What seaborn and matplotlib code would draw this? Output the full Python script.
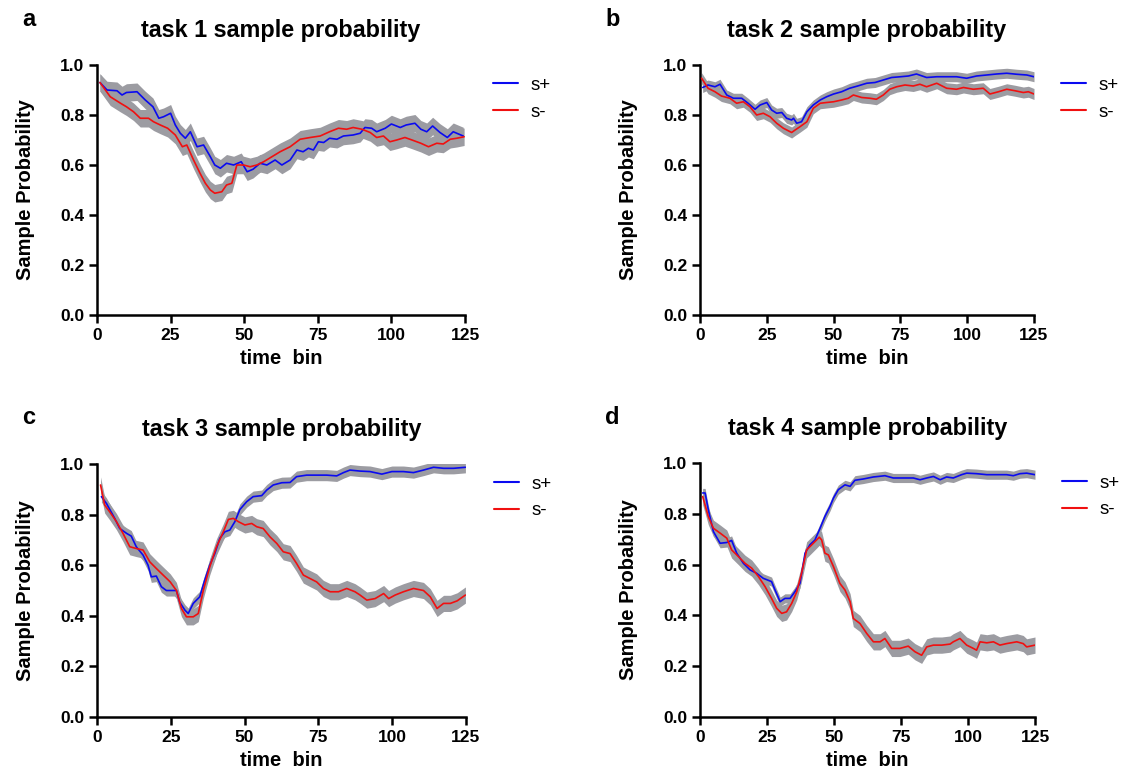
import numpy as np
import pandas as pd
import matplotlib
matplotlib.use("Agg")
import matplotlib.pyplot as plt
import seaborn as sns
from matplotlib.lines import Line2D

# ---------------- data ----------------
# Panel a (task 1)
a_sp_x = [1, 3.4, 6.8, 8.5, 10, 13.6, 14.7, 16.4, 19, 21, 22.6, 25, 26.6, 28.3, 30, 31.7, 34, 36.2, 38.5, 40, 41.9, 44,
          46.4, 49, 51, 53, 55.4, 57.7, 60.5, 62.8, 65.6, 67.9, 70, 71.8, 73.5, 75.2, 77, 79, 81.5, 83.7, 87, 89.4, 91,
          93.3, 95, 97.9, 100, 103, 105, 108, 110, 112, 114, 116.5, 119, 121, 124.4]
a_sp_y = [0.93, 0.90, 0.897, 0.88, 0.89, 0.893, 0.88, 0.86, 0.833, 0.787, 0.793, 0.807, 0.76, 0.727, 0.707, 0.733,
          0.673, 0.68, 0.633, 0.60, 0.587, 0.607, 0.60, 0.613, 0.573, 0.583, 0.607, 0.60, 0.62, 0.60, 0.62, 0.66,
          0.653, 0.667, 0.66, 0.693, 0.69, 0.707, 0.703, 0.716, 0.72, 0.727, 0.75, 0.747, 0.733, 0.747, 0.764, 0.75,
          0.76, 0.767, 0.743, 0.733, 0.756, 0.73, 0.71, 0.733, 0.716]
a_sm_x = [1, 4.5, 8, 10, 12.4, 14.7, 17.5, 19.2, 21.5, 24, 26.6, 29, 30.5, 32.8, 35, 36.8, 38.5, 40, 42.4, 44, 45.8,
          47.5, 49.8, 52, 54.3, 56.6, 59.4, 62.2, 65.6, 69, 72.4, 75.8, 79, 82, 84.8, 87, 90, 92.8, 95, 97.3, 99.5,
          101.8, 104.6, 107, 110, 112.6, 115.4, 117.6, 120, 122.2, 124.7]
a_sm_y = [0.93, 0.873, 0.847, 0.833, 0.813, 0.787, 0.787, 0.773, 0.76, 0.747, 0.72, 0.673, 0.68, 0.62, 0.567, 0.527,
          0.50, 0.487, 0.493, 0.52, 0.527, 0.60, 0.60, 0.593, 0.60, 0.613, 0.633, 0.653, 0.673, 0.703, 0.71, 0.716,
          0.733, 0.747, 0.743, 0.75, 0.743, 0.73, 0.71, 0.716, 0.693, 0.70, 0.71, 0.70, 0.687, 0.673, 0.687, 0.684,
          0.703, 0.707, 0.713]

# Panel b (task 2)
b_sp_x = [1, 3, 5.6, 7.5, 10, 12.5, 15.6, 18, 20.6, 22.5, 25, 26.8, 28.7, 30.6, 32.4, 34.3, 35, 36.2, 38, 40, 42.4,
          45, 47.4, 50, 53, 56, 59, 62.4, 65.5, 68.6, 71.7, 75, 78, 81, 84.8, 88.6, 92.3, 96, 99.8, 103.5, 107.3, 111,
          114.8, 118.5, 122.3, 125]
b_sp_y = [0.91, 0.92, 0.913, 0.923, 0.88, 0.867, 0.867, 0.847, 0.823, 0.84, 0.85, 0.82, 0.807, 0.81, 0.787, 0.78,
          0.787, 0.767, 0.773, 0.813, 0.84, 0.86, 0.873, 0.884, 0.893, 0.907, 0.916, 0.927, 0.93, 0.94, 0.95, 0.953,
          0.956, 0.964, 0.95, 0.953, 0.953, 0.953, 0.947, 0.956, 0.96, 0.964, 0.967, 0.963, 0.96, 0.953]
b_sm_x = [0.6, 3, 5.6, 8, 11.2, 13.7, 16.2, 18.7, 21.2, 23.7, 26.2, 28.7, 31.2, 34.3, 35.6, 37.4, 40, 42.4, 45, 47.4,
          50, 53, 55.5, 57.4, 60.5, 63.6, 66, 68.6, 71, 73.6, 76.7, 79.8, 82.3, 84.8, 88.6, 92.3, 96, 98.6, 102.3, 106,
          108.5, 111.7, 114.8, 117.9, 121, 122.9, 125]
b_sm_y = [0.947, 0.907, 0.893, 0.876, 0.867, 0.847, 0.853, 0.833, 0.80, 0.807, 0.793, 0.767, 0.747, 0.73, 0.74, 0.753,
          0.773, 0.827, 0.847, 0.85, 0.853, 0.86, 0.867, 0.88, 0.87, 0.867, 0.863, 0.88, 0.903, 0.913, 0.92, 0.916,
          0.923, 0.913, 0.927, 0.907, 0.903, 0.91, 0.903, 0.907, 0.884, 0.893, 0.903, 0.897, 0.89, 0.893, 0.884]

# Panel c (task 3)
c_sp_x = [1.5, 3.2, 6, 7.7, 10, 11.6, 13.3, 15.6, 17.3, 18.4, 20.1, 21.8, 23.5, 25.2, 26.9, 28, 29.8, 30.9, 32.6,
          34.8, 36.5, 38.2, 39.9, 41.6, 43.3, 45, 46.7, 48.4, 50.7, 52.9, 55.8, 57.5, 59.7, 62.6, 65.4, 67.6, 71, 74.4,
          77.8, 81.2, 83.5, 85.7, 89.1, 92.5, 96.5, 99.9, 103.8, 107.2, 110.6, 114, 117.4, 120.8, 124.8]
c_sp_y = [0.871, 0.844, 0.785, 0.745, 0.726, 0.715, 0.673, 0.64, 0.60, 0.554, 0.557, 0.515, 0.50, 0.50, 0.50, 0.454,
          0.422, 0.409, 0.449, 0.475, 0.541, 0.60, 0.646, 0.706, 0.732, 0.739, 0.772, 0.82, 0.851, 0.871, 0.875,
          0.897, 0.917, 0.926, 0.927, 0.95, 0.956, 0.956, 0.956, 0.953, 0.966, 0.976, 0.972, 0.97, 0.96, 0.97, 0.97,
          0.966, 0.976, 0.987, 0.983, 0.983, 0.987]
c_sm_x = [1.2, 2.6, 4.3, 6.6, 8.8, 11.1, 13.3, 15.6, 17.9, 20.1, 22.4, 24.8, 26.9, 28.6, 30.3, 32.6, 34.3, 36, 38.2,
          40.5, 42.8, 44.5, 46.2, 47.9, 50.1, 52.4, 54.1, 56.3, 58.6, 60.9, 63.1, 65.4, 67.6, 69.9, 72.2, 74.4, 76.7,
          79, 81.8, 84.6, 87.4, 89.1, 91.4, 94.2, 97.1, 98.8, 101, 103.8, 107.2, 110.6, 112.9, 115.2, 117.4, 119.7,
          122, 124.8]
c_sm_y = [0.917, 0.838, 0.811, 0.772, 0.726, 0.673, 0.666, 0.66, 0.613, 0.587, 0.561, 0.534, 0.50, 0.429, 0.396,
          0.396, 0.409, 0.50, 0.594, 0.673, 0.732, 0.781, 0.785, 0.772, 0.759, 0.765, 0.752, 0.745, 0.712, 0.686,
          0.653, 0.646, 0.607, 0.561, 0.547, 0.534, 0.508, 0.495, 0.495, 0.508, 0.495, 0.482, 0.462, 0.468, 0.488,
          0.468, 0.482, 0.495, 0.508, 0.50, 0.475, 0.429, 0.449, 0.449, 0.459, 0.482]

# Panel d (task 4)
d_sp_x = [1, 1.9, 3.1, 5, 7.5, 10, 11.8, 13.7, 16.2, 18.7, 21.1, 23.6, 26.7, 28, 29.9, 31.7, 33.6, 35.4, 37.3, 39.2,
          41, 42.9, 44.8, 46.6, 48.5, 49.8, 51.6, 54.1, 56, 57.8, 60.9, 64.7, 66.5, 69, 72.1, 75.9, 79.6, 82.1, 84.6,
          87.1, 89.6, 92, 94.5, 97.6, 99.5, 103.2, 107, 110.7, 114.4, 116.9, 119.4, 121.9, 125]
d_sp_y = [0.882, 0.882, 0.816, 0.73, 0.684, 0.687, 0.695, 0.645, 0.605, 0.579, 0.566, 0.546, 0.533, 0.50, 0.454,
          0.467, 0.467, 0.493, 0.526, 0.645, 0.678, 0.697, 0.743, 0.789, 0.829, 0.862, 0.895, 0.914, 0.908, 0.932,
          0.937, 0.945, 0.947, 0.95, 0.941, 0.941, 0.941, 0.934, 0.941, 0.947, 0.934, 0.945, 0.941, 0.954, 0.96,
          0.958, 0.954, 0.954, 0.954, 0.95, 0.958, 0.96, 0.954]
d_sm_x = [1, 3.1, 5, 7.5, 10, 11.8, 14.3, 16.8, 19.3, 21.8, 24.3, 26.7, 28.6, 30.5, 32.3, 34.2, 36.1, 37.9, 39.8,
          41.7, 43.5, 44.5, 45.4, 46.6, 47.9, 49.8, 52.2, 54.1, 56, 57.2, 59.7, 62.2, 64.7, 67.2, 69, 71.5, 74.6, 77.7,
          80.2, 82.7, 84.6, 87.1, 90.2, 93.3, 94.5, 97, 99.5, 102, 103.2, 104.5, 107, 109.5, 111.9, 114.4, 118.2,
          120.6, 121.9, 125]
d_sm_y = [0.868, 0.789, 0.743, 0.724, 0.704, 0.658, 0.632, 0.605, 0.586, 0.553, 0.513, 0.467, 0.428, 0.408, 0.414,
          0.447, 0.493, 0.566, 0.658, 0.678, 0.697, 0.708, 0.697, 0.645, 0.638, 0.592, 0.526, 0.50, 0.454, 0.388,
          0.368, 0.329, 0.296, 0.296, 0.309, 0.27, 0.27, 0.279, 0.257, 0.243, 0.276, 0.283, 0.283, 0.287, 0.296,
          0.309, 0.283, 0.27, 0.263, 0.296, 0.292, 0.296, 0.283, 0.289, 0.296, 0.289, 0.276, 0.283]

# half-width of the grey error band for each series
band_sp = [0.035, 0.02, 0.022, 0.018]
band_sm = [0.035, 0.022, 0.032, 0.032]

titles = ["task 1 sample probability", "task 2 sample probability",
          "task 3 sample probability", "task 4 sample probability"]
letters = ["a", "b", "c", "d"]
labels = ["s+", "s-"]
x_ticks = [0, 25, 50, 75, 100, 125]
y_ticks = [0.0, 0.2, 0.4, 0.6, 0.8, 1.0]

panels = [
    (a_sp_x, a_sp_y, a_sm_x, a_sm_y),
    (b_sp_x, b_sp_y, b_sm_x, b_sm_y),
    (c_sp_x, c_sp_y, c_sm_x, c_sm_y),
    (d_sp_x, d_sp_y, d_sm_x, d_sm_y),
]

# ---------------- style ----------------
sns.set_style("ticks")
plt.rcParams['font.family'] = ['Liberation Sans', 'DejaVu Sans']
plt.rcParams['axes.linewidth'] = 1.8
for key in ['text.color', 'axes.labelcolor', 'xtick.color', 'ytick.color', 'axes.edgecolor']:
    plt.rcParams[key] = 'black'

palette = {"s+": "#0a0af0", "s-": "#f01010"}
band_color = "#9c9ca2"

fig = plt.figure(figsize=(11.22, 7.78), dpi=100)
W, H = 1122, 778
boxes = [(97, 465, 65, 315), (700, 1034, 65, 315), (97, 466, 464, 717), (700, 1035, 463, 717)]
letter_pos = [(22, 20), (605, 20), (22, 418), (605, 418)]

for i, (spx, spy, smx, smy) in enumerate(panels):
    l, r, t, b = boxes[i]
    ax = fig.add_axes([l / W, 1 - b / H, (r - l) / W, (b - t) / H])
    df = pd.concat([
        pd.DataFrame({"time bin": spx, "p": spy, "cond": "s+"}),
        pd.DataFrame({"time bin": smx, "p": smy, "cond": "s-"}),
    ], ignore_index=True)
    # error bands
    for lab, hw in zip(labels, (band_sp[i], band_sm[i])):
        sub = df[df["cond"] == lab]
        ax.fill_between(sub["time bin"], sub["p"] - hw, sub["p"] + hw,
                        color=band_color, lw=0, zorder=1)
    sns.lineplot(data=df, x="time bin", y="p", hue="cond", palette=palette,
                 lw=1.2, ax=ax, legend=False, zorder=3, estimator=None)
    ax.set_xlim(0, 125)
    ax.set_ylim(0, 1.0)
    ax.set_xticks(x_ticks)
    ax.set_yticks(y_ticks)
    ax.set_yticklabels([f"{v:.1f}" for v in y_ticks])
    sns.despine(ax=ax)
    ax.tick_params(axis="both", direction="out", length=6, width=1.8, labelsize=12.5, pad=3)
    for lab in ax.get_xticklabels() + ax.get_yticklabels():
        lab.set_fontweight("bold")
    ax.set_xlabel("time  bin", fontsize=14.5, fontweight="bold", labelpad=5)
    ax.set_ylabel("Sample Probability", fontsize=14.5, fontweight="bold", labelpad=18)
    ax.set_title(titles[i], fontsize=16.8, fontweight="bold", pad=20)
    handles = [Line2D([0], [0], color=palette[k], lw=1.5) for k in labels]
    ax.legend(handles, labels, loc="upper left", bbox_to_anchor=(1.03, 1.02),
              frameon=False, fontsize=13.5, handlelength=1.35, handletextpad=0.65,
              labelspacing=0.5)
    fig.text(letter_pos[i][0] / W, 1 - letter_pos[i][1] / H, letters[i],
             fontsize=17, fontweight="bold", ha="left", va="center")

fig.savefig("out.png", dpi=100)
